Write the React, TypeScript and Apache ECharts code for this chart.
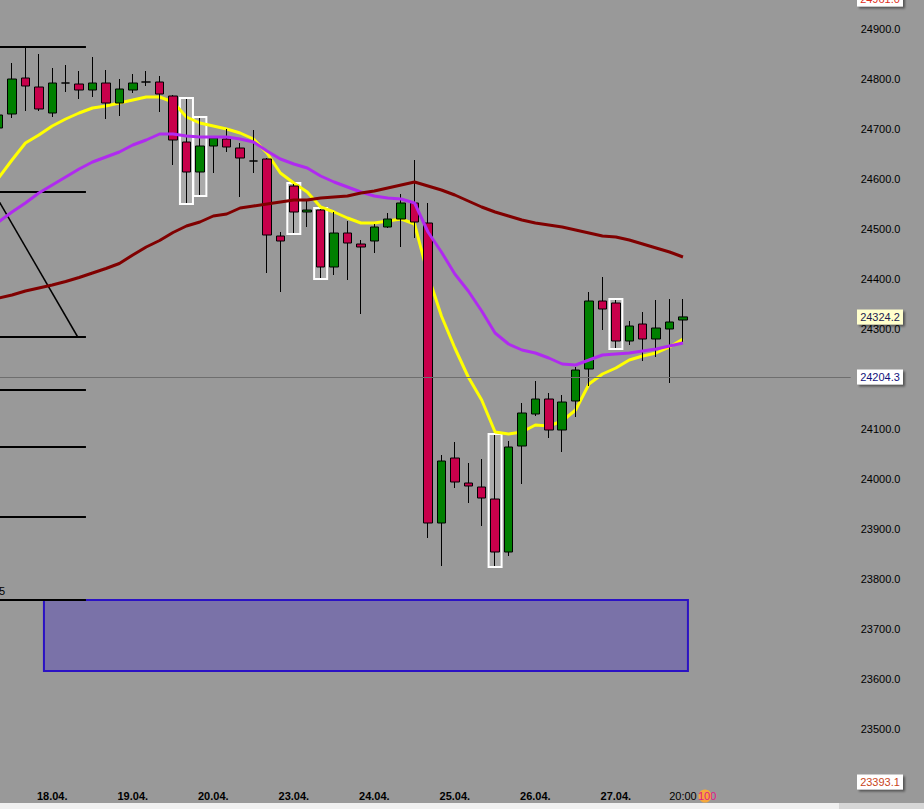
import React, { useEffect, useRef } from 'react';
import * as echarts from 'echarts';

// ---- time axis ----
const DAYS = ['17.04.', '18.04.', '19.04.', '20.04.', '23.04.', '24.04.', '25.04.', '26.04.', '27.04.'];
const HOURS = ['00:00', '04:00', '08:00', '12:00', '16:00', '20:00'];
const FIRST_HOUR_SLOT = 2; // first visible candle: 17.04. 08:00
const FUTURE_SLOTS = 12;

// ---- candles: [open, close, low, high] ----
const CANDLES: number[][] = [
  [24702, 24728, 24690, 24740],
  [24730, 24800, 24722, 24832],
  [24802, 24786, 24736, 24862],
  [24784, 24740, 24736, 24850],
  [24732, 24792, 24724, 24822],
  [24792, 24792, 24774, 24828],
  [24790, 24778, 24760, 24816],
  [24778, 24792, 24764, 24844],
  [24792, 24752, 24720, 24818],
  [24752, 24780, 24726, 24800],
  [24778, 24792, 24772, 24810],
  [24794, 24794, 24786, 24816],
  [24794, 24770, 24734, 24806],
  [24766, 24678, 24628, 24768],
  [24674, 24614, 24552, 24760],
  [24614, 24666, 24568, 24722],
  [24666, 24682, 24612, 24684],
  [24680, 24664, 24654, 24700],
  [24662, 24642, 24564, 24672],
  [24636, 24636, 24612, 24698],
  [24640, 24488, 24412, 24642],
  [24486, 24476, 24374, 24494],
  [24586, 24534, 24492, 24590],
  [24534, 24538, 24504, 24558],
  [24538, 24424, 24402, 24540],
  [24424, 24492, 24408, 24534],
  [24492, 24472, 24398, 24516],
  [24470, 24464, 24330, 24478],
  [24476, 24504, 24452, 24510],
  [24504, 24520, 24502, 24532],
  [24520, 24552, 24464, 24570],
  [24552, 24514, 24482, 24638],
  [24512, 23912, 23882, 24552],
  [23912, 24036, 23826, 24048],
  [24042, 23994, 23982, 24074],
  [23992, 23986, 23952, 24032],
  [23984, 23962, 23906, 24040],
  [23960, 23854, 23826, 24088],
  [23854, 24064, 23846, 24076],
  [24066, 24132, 23990, 24152],
  [24130, 24160, 24126, 24196],
  [24160, 24098, 24082, 24172],
  [24098, 24154, 24054, 24168],
  [24156, 24218, 24124, 24224],
  [24220, 24356, 24186, 24374],
  [24356, 24340, 24298, 24404],
  [24352, 24276, 24262, 24358],
  [24276, 24306, 24268, 24316],
  [24310, 24280, 24236, 24334],
  [24280, 24302, 24244, 24358],
  [24300, 24314, 24192, 24360],
  [24318, 24324.2, 24274, 24360],
];

// ---- moving averages ----
const MA_FAST = [
  24602, 24638, 24672, 24688, 24706, 24720, 24732, 24742, 24746, 24752,
  24758, 24764, 24764, 24754, 24724, 24712, 24706, 24700, 24692, 24680,
  24652, 24612, 24592, 24574, 24544, 24534, 24522, 24512, 24512, 24516,
  24520, 24510, 24408, 24326, 24262, 24204, 24158, 24094, 24090, 24094,
  24108, 24106, 24116, 24138, 24190, 24210, 24222, 24238, 24246, 24252,
  24264, 24280,
];
const MA_MID = [
  24514, 24534, 24552, 24572, 24588, 24604, 24620, 24634, 24644, 24654,
  24668, 24678, 24690, 24690, 24686, 24684, 24684, 24684, 24680, 24674,
  24656, 24640, 24630, 24622, 24606, 24594, 24584, 24574, 24566, 24562,
  24560, 24552, 24494, 24454, 24410, 24376, 24336, 24292, 24270, 24258,
  24252, 24242, 24230, 24228, 24238, 24248, 24250, 24252, 24256, 24260,
  24266, 24272,
];
const MA_SLOW = [
  24362, 24368, 24376, 24382, 24388, 24395, 24403, 24412, 24421, 24431,
  24448, 24464, 24477, 24493, 24506, 24514, 24526, 24530, 24542, 24546,
  24550, 24554, 24558, 24558, 24562, 24564, 24566, 24572, 24576, 24582,
  24588, 24594, 24586, 24578, 24568, 24556, 24544, 24534, 24526, 24518,
  24512, 24508, 24504, 24498, 24492, 24486, 24484, 24478, 24470, 24462,
  24454, 24444,
];

// candles marked with a white frame (candle array indices)
const HIGHLIGHT_IDX = [14, 15, 22, 24, 37, 46];

// ---- drawings ----
const LEVELS = [24864, 24574, 24284, 24178, 24064, 23924, 23758];
const LEVEL_SPAN = [-0.5, 6.51]; // in category units
const TREND_LINE = [[-0.5, 24580], [5.92, 24283]];
const ZONE_X = [3.38, 51.37];
const ZONE_PRICE = [23758, 23616];
const LAST_PRICE = 24204.3;

// ---- price axis ----
const Y_MIN = 23300;
const Y_MAX = 25000;
const Y_STEP = 100;
const HIDDEN_TICKS = [23300, 23400, 25000];
const TAG_VALUES = [24961.0, 24324.2, 24204.3, 23393.1];
const TAG_BG = ['#ffffff', '#ffffcc', '#ffffff', '#ffffff'];
const TAG_FG = ['#e0301e', '#1c1c50', '#12127c', '#c8461c'];

const FONT = '"Liberation Sans", Arial, sans-serif';

function buildCategories(): string[] {
  const cats: string[] = [];
  for (let i = 0; i < CANDLES.length; i++) {
    const slot = FIRST_HOUR_SLOT + i;
    cats.push(DAYS[Math.floor(slot / 6)] + ' ' + HOURS[slot % 6]);
  }
  for (let j = 0; j < FUTURE_SLOTS; j++) cats.push('f' + j);
  return cats;
}

export default function App() {
  const ref = useRef<HTMLDivElement>(null);

  useEffect(() => {
    document.body.style.margin = '0';
    const chart = echarts.init(ref.current!, null, { renderer: 'svg' });
    const cats = buildCategories();
    const lastIdx = CANDLES.length - 1;

    const option: any = {
      animation: false,
      backgroundColor: '#999999',
      textStyle: { fontFamily: FONT },
      grid: {
        left: -8.13,
        top: -21,
        width: 858.84,
        height: 850,
        containLabel: false,
        outerBoundsMode: 'none',
      },
      xAxis: {
        type: 'category',
        data: cats,
        boundaryGap: true,
        offset: -43,
        axisLine: { show: false },
        axisTick: { show: false },
        splitLine: { show: false },
        axisLabel: {
          margin: 4,
          interval: (index: number, value: string) =>
            index <= lastIdx && (value.endsWith('00:00') || index === lastIdx),
          formatter: (value: string) => {
            const [d, t] = value.split(' ');
            return t === '00:00' ? `{d|${d}}` : `{t|${t}}`;
          },
          rich: {
            d: { fontFamily: FONT, fontSize: 11, fontWeight: 'bold', color: '#000' },
            t: { fontFamily: FONT, fontSize: 11, color: '#000' },
          },
        },
      },
      yAxis: {
        type: 'value',
        position: 'right',
        min: Y_MIN,
        max: Y_MAX,
        interval: Y_STEP,
        axisLine: { show: false },
        axisTick: { show: false },
        splitLine: { show: false },
        axisLabel: {
          margin: 10,
          color: '#000',
          fontFamily: FONT,
          fontSize: 11,
          formatter: (v: number) => (HIDDEN_TICKS.includes(v) ? '' : v.toFixed(1)),
        },
      },
      series: [
        {
          type: 'custom',
          name: 'drawings',
          silent: true,
          z: 1,
          data: [[0, LEVELS[0]]],
          encode: { x: 0, y: 1 },
          renderItem: (_params: any, api: any) => {
            const c0 = api.coord([0, LEVELS[0]])[0];
            const band = api.size([1, 0])[0];
            const px = (i: number) => c0 + i * band;
            const py = (p: number) => api.coord([0, p])[1];
            const children: any[] = [];
            children.push({
              type: 'rect',
              shape: {
                x: px(ZONE_X[0]),
                y: py(ZONE_PRICE[0]),
                width: px(ZONE_X[1]) - px(ZONE_X[0]),
                height: py(ZONE_PRICE[1]) - py(ZONE_PRICE[0]),
              },
              style: { fill: '#7a72a8', stroke: '#2b12c4', lineWidth: 2 },
            });
            LEVELS.forEach((p) => {
              children.push({
                type: 'line',
                shape: { x1: px(LEVEL_SPAN[0]), y1: py(p), x2: px(LEVEL_SPAN[1]), y2: py(p) },
                style: { stroke: '#000', lineWidth: 2 },
              });
            });
            children.push({
              type: 'line',
              shape: {
                x1: px(TREND_LINE[0][0]),
                y1: py(TREND_LINE[0][1]),
                x2: px(TREND_LINE[1][0]),
                y2: py(TREND_LINE[1][1]),
              },
              style: { stroke: '#000', lineWidth: 1.5 },
            });
            return { type: 'group', children };
          },
        },
        {
          type: 'custom',
          name: 'frames',
          silent: true,
          z: 2,
          data: HIGHLIGHT_IDX.map((i) => [i, CANDLES[i][2], CANDLES[i][3]]),
          encode: { x: 0, y: [1, 2] },
          renderItem: (_params: any, api: any) => {
            const lo = api.coord([api.value(0), api.value(1)]);
            const hi = api.coord([api.value(0), api.value(2)]);
            const band = api.size([1, 0])[0];
            const w = band * 0.97;
            return {
              type: 'rect',
              shape: { x: lo[0] - w / 2, y: hi[1] - 1, width: w, height: lo[1] - hi[1] + 2 },
              style: { fill: 'rgba(255,255,255,0.18)', stroke: '#ffffff', lineWidth: 2 },
            };
          },
        },
        {
          type: 'line',
          name: 'MA fast',
          data: MA_FAST,
          z: 3,
          silent: true,
          symbol: 'none',
          showSymbol: false,
          lineStyle: { color: '#ffff00', width: 3 },
          itemStyle: { color: '#ffff00' },
          markLine: {
            silent: true,
            symbol: ['none', 'none'],
            label: { show: false },
            lineStyle: { color: '#6e6e6e', width: 1, type: 'solid' },
            data: [{ yAxis: LAST_PRICE }],
          },
        },
        {
          type: 'candlestick',
          name: 'price',
          data: CANDLES,
          z: 4,
          silent: true,
          barWidth: 9,
          itemStyle: {
            color: '#008000',
            color0: '#c8004b',
            borderColor: '#000000',
            borderColor0: '#000000',
            borderColorDoji: '#000000',
            borderWidth: 1,
          },
        },
        {
          type: 'line',
          name: 'MA mid',
          data: MA_MID,
          z: 5,
          silent: true,
          symbol: 'none',
          showSymbol: false,
          lineStyle: { color: '#b02af0', width: 3 },
          itemStyle: { color: '#b02af0' },
        },
        {
          type: 'line',
          name: 'MA slow',
          data: MA_SLOW,
          z: 5,
          silent: true,
          symbol: 'none',
          showSymbol: false,
          lineStyle: { color: '#800000', width: 3 },
          itemStyle: { color: '#800000' },
        },
      ],
    };

    chart.setOption(option);

    const graphics: any[] = [];
    TAG_VALUES.forEach((v, i) => {
      const y = chart.convertToPixel({ yAxisIndex: 0 }, v) as number;
      graphics.push({
        type: 'rect',
        z: 100,
        shape: { x: 857, y: Math.round(y) - 7.5, width: 46, height: 15 },
        style: {
          fill: TAG_BG[i],
          shadowBlur: 2,
          shadowOffsetX: 2,
          shadowOffsetY: 2,
          shadowColor: 'rgba(0,0,0,0.45)',
        },
      });
      graphics.push({
        type: 'text',
        z: 101,
        x: 880,
        y: Math.round(y),
        style: {
          text: v.toFixed(1),
          fill: TAG_FG[i],
          font: `11px ${FONT}`,
          align: 'center',
          verticalAlign: 'middle',
          textAlign: 'center',
          textVerticalAlign: 'middle',
        },
      });
    });
    const zoneY = chart.convertToPixel({ yAxisIndex: 0 }, ZONE_PRICE[0]) as number;
    graphics.push({
      type: 'text',
      z: 100,
      x: -1,
      y: zoneY - 9,
      style: {
        text: '5',
        fill: '#000',
        font: `11px ${FONT}`,
        align: 'left',
        verticalAlign: 'middle',
        textAlign: 'left',
        textVerticalAlign: 'middle',
      },
    });
    graphics.push({
      type: 'circle',
      z: 100,
      shape: { cx: 705, cy: 796, r: 6.5 },
      style: { fill: '#f5a83c' },
    });
    graphics.push({
      type: 'text',
      z: 101,
      x: 698,
      y: 796,
      style: {
        text: '100',
        fill: '#e01888',
        font: `11px ${FONT}`,
        align: 'left',
        verticalAlign: 'middle',
        textAlign: 'left',
        textVerticalAlign: 'middle',
      },
    });
    graphics.push({
      type: 'rect',
      z: 100,
      shape: { x: 0, y: 803, width: 924, height: 6 },
      style: { fill: '#f0f0f0' },
    });
    graphics.push({
      type: 'rect',
      z: 100,
      shape: { x: 839, y: 803, width: 85, height: 6 },
      style: { fill: '#d6d6d6' },
    });
    chart.setOption({ graphic: graphics });

    return () => chart.dispose();
  }, []);

  return <div ref={ref} style={{ width: 924, height: 809 }} />;
}
